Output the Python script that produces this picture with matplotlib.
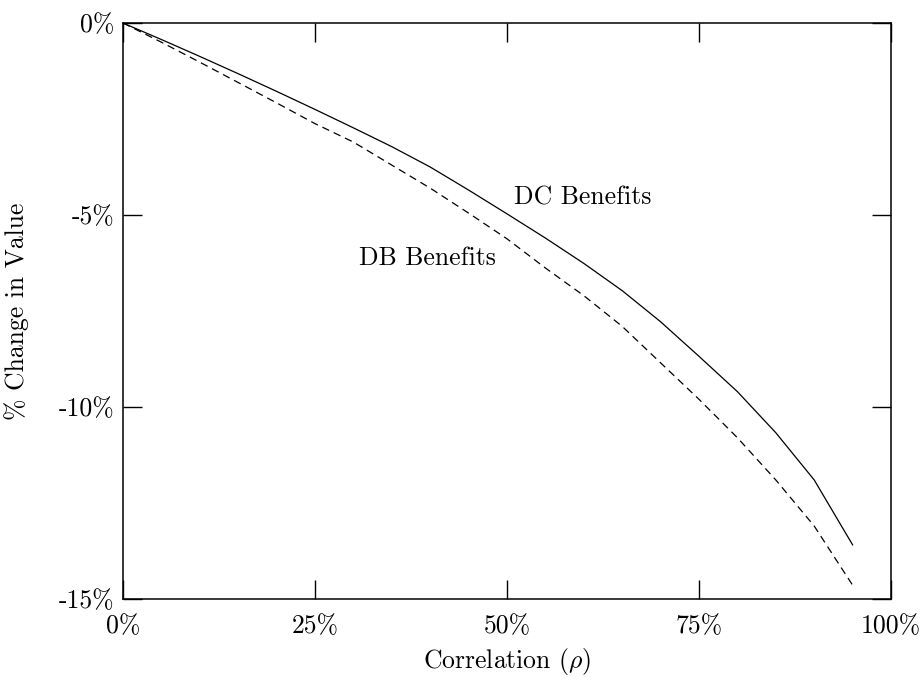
import matplotlib
matplotlib.use('Agg')
import matplotlib.pyplot as plt
import numpy as np

plt.rcParams['font.family'] = ['cmr10', 'DejaVu Serif']
plt.rcParams['mathtext.fontset'] = 'cm'
plt.rcParams['axes.formatter.use_mathtext'] = True

# correlation in %, change in value in %
rho = [0, 5, 10, 15, 20, 25, 30, 35, 40, 45, 50, 55, 60, 65, 70, 75, 80, 85, 90, 95]
dc_benefits = [0, -0.43, -0.87, -1.32, -1.78, -2.25, -2.73, -3.22, -3.75, -4.35,
               -4.97, -5.60, -6.26, -6.97, -7.78, -8.68, -9.60, -10.67, -11.90, -13.59]
db_benefits = [0, -0.50, -1.02, -1.55, -2.08, -2.62, -3.10, -3.70, -4.30, -4.95,
               -5.62, -6.38, -7.10, -7.90, -8.85, -9.80, -10.80, -11.90, -13.10, -14.64]

xticks = [0, 25, 50, 75, 100]
xticklabels = ['0%', '25%', '50%', '75%', '100%']
yticks = [0, -5, -10, -15]
yticklabels = ['0%', '-5%', '-10%', '-15%']

fs = 18.5

fig, ax = plt.subplots(figsize=(9.22, 6.77), dpi=100)
fig.subplots_adjust(left=0.1334, right=0.9664, top=0.966, bottom=0.1152)

ax.plot(rho, dc_benefits, color='k', lw=0.9)
ax.plot(rho, db_benefits, color='k', lw=0.9, dashes=(6, 4))

ax.text(50.9, -4.56, 'DC Benefits', fontsize=fs, va='center', ha='left')
ax.text(30.7, -6.12, 'DB Benefits', fontsize=fs, va='center', ha='left')

ax.set_xlim(0, 100)
ax.set_ylim(-15, 0)
ax.set_xticks(xticks)
ax.set_xticklabels(xticklabels)
ax.set_yticks(yticks)
ax.set_yticklabels(yticklabels)
ax.tick_params(direction='in', length=13.5, width=1, top=True, right=True,
               labelsize=fs)
ax.tick_params(axis='x', pad=11)
ax.tick_params(axis='y', pad=6)
for s in ax.spines.values():
    s.set_linewidth(1.1)

ax.set_xlabel(r'Correlation ($\rho$)', fontsize=fs, labelpad=6)
ax.set_ylabel('% Change in Value', fontsize=fs)
ax.yaxis.set_label_coords(-0.122, 0.5)

fig.savefig('out.png', dpi=100)
